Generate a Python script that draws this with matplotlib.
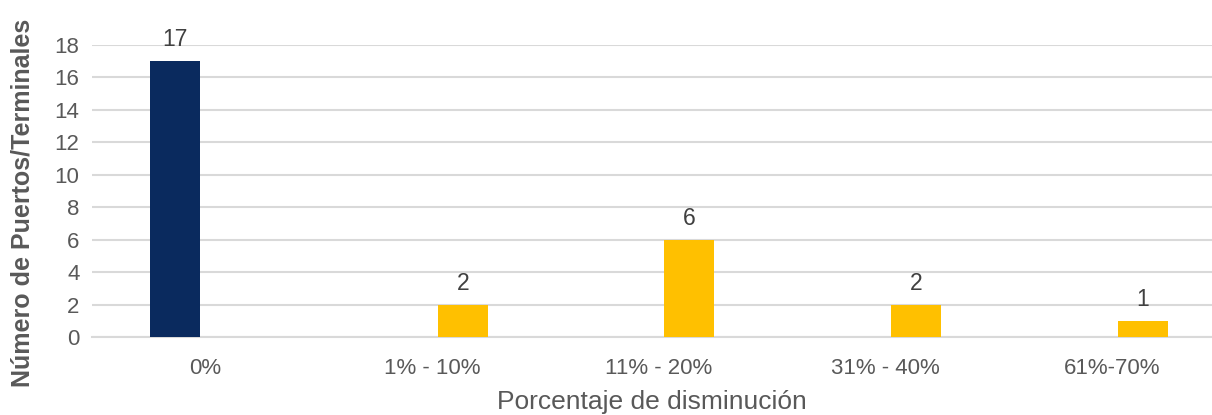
import matplotlib.pyplot as plt
import numpy as np

plt.rcParams['font.family'] = ['Liberation Sans', 'DejaVu Sans']

# data
categories = ['0%', '1% - 10%', '11% - 20%', '31% - 40%', '61%-70%']
sin_disminucion = [17, 0, 0, 0, 0]
con_disminucion = [0, 2, 6, 2, 1]

navy = '#0A2A5E'
yellow = '#FFC000'
grid_col = '#D9D9D9'
text_col = '#595959'

fig = plt.figure(figsize=(12.12, 4.15), dpi=100)
ax = fig.add_axes([92 / 1212, 1 - 337 / 415, 1 - 92 / 1212, 292 / 415])

x = np.arange(len(categories))
w = 0.22
off = 0.135

# first series (navy) left of center, second (yellow) right
for xi, v in zip(x, sin_disminucion):
    if v > 0:
        ax.bar(xi - off, v, width=w, color=navy, zorder=3)
        ax.text(xi - off, v + 0.6, str(v), ha='center', va='bottom',
                fontsize=16.5, color='#404040', clip_on=False)
for xi, v in zip(x, con_disminucion):
    if v > 0:
        ax.bar(xi + off, v, width=w, color=yellow, zorder=3)
        ax.text(xi + off, v + 0.6, str(v), ha='center', va='bottom',
                fontsize=16.5, color='#404040', clip_on=False)

ax.set_ylim(0, 18)
ax.set_xlim(-0.5, 4.44)
ax.set_yticks(range(0, 19, 2))
ax.set_xticks(x)
ax.set_xticklabels(categories)
ax.tick_params(axis='both', length=0, labelsize=16, labelcolor=text_col)
ax.tick_params(axis='x', pad=15)
ax.tick_params(axis='y', pad=9)

ax.yaxis.grid(True, color=grid_col, linewidth=1.5, zorder=0)
for s in ['top', 'right', 'left']:
    ax.spines[s].set_visible(False)
ax.spines['bottom'].set_color(grid_col)
ax.spines['bottom'].set_linewidth(1.5)

ax.set_xlabel('Porcentaje de disminución', fontsize=19, color=text_col, va='center')
ax.set_ylabel('Número de Puertos/Terminales', fontsize=18, color=text_col,
              fontweight='bold', va='center')
ax.xaxis.set_label_coords(0.5, -0.223)
ax.yaxis.set_label_coords(-0.062, 0.46)

fig.savefig('out.png', dpi=100)
